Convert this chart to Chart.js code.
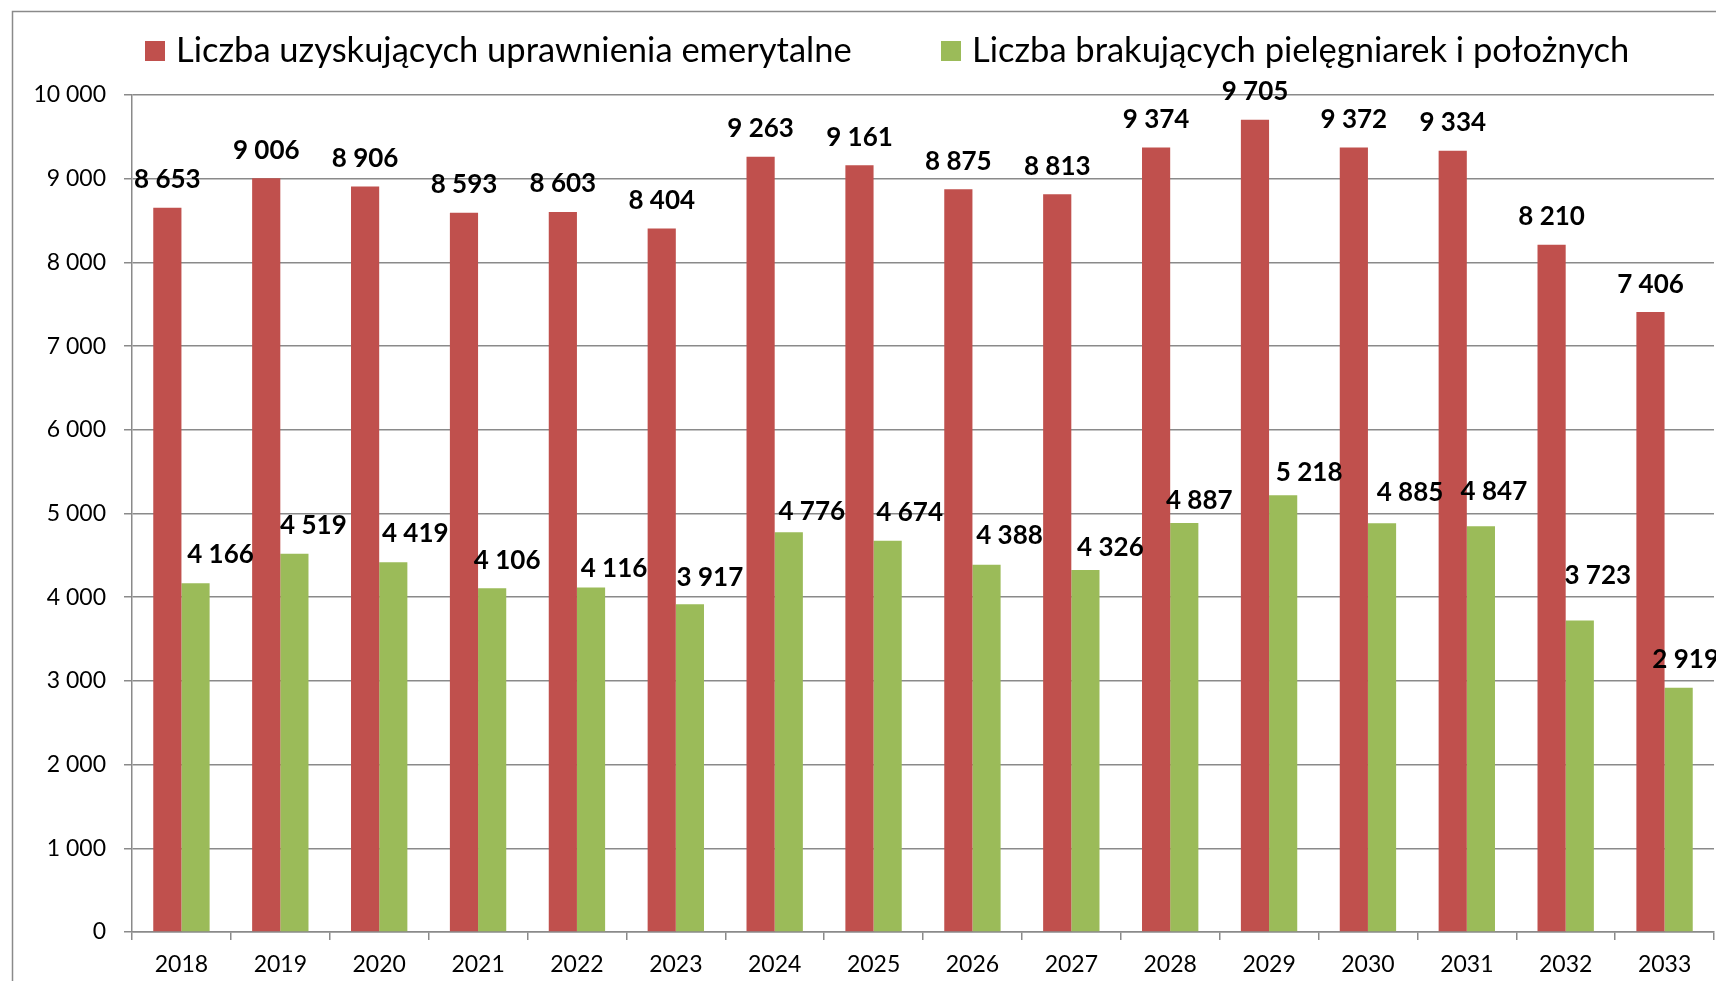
<!DOCTYPE html>
<html>
<head>
<meta charset="utf-8">
<script src="https://cdn.jsdelivr.net/npm/chart.js@4.4.1/dist/chart.umd.min.js"></script>
<style>
  html, body { margin: 0; padding: 0; background: #ffffff; overflow: hidden; }
  #wrap { position: relative; width: 1716px; height: 981px; }
  canvas { display: block; }
</style>
</head>
<body>
<div id="wrap"><canvas id="c" width="1716" height="981"></canvas></div>
<script>
// ---- data ----
const years = ['2018','2019','2020','2021','2022','2023','2024','2025','2026','2027','2028','2029','2030','2031','2032','2033'];
const seriesNames = ['Liczba uzyskujących uprawnienia emerytalne', 'Liczba brakujących pielęgniarek i położnych'];
const retiring = [8653, 9006, 8906, 8593, 8603, 8404, 9263, 9161, 8875, 8813, 9374, 9705, 9372, 9334, 8210, 7406];
const shortage = [4166, 4519, 4419, 4106, 4116, 3917, 4776, 4674, 4388, 4326, 4887, 5218, 4885, 4847, 3723, 2919];
const yTicks = [0, 1000, 2000, 3000, 4000, 5000, 6000, 7000, 8000, 9000, 10000];

// ---- styling (label nudges as placed in the original) ----
const colors = ['#C0504D', '#9BBB59'];
const greenNudgeX = [25, 19, 22, 15, 23, 20, 23, 22, 23, 25, 15, 26, 28, 13, 18, 7];
const greenNudgeY = [-1, 0, -1, 0, 9, 1, 7, 0, -1, 6, 6, 5, -3, -7, -17, 0];
const FONT = 'Lato, "Open Sans", "DejaVu Sans", sans-serif';

function fmt(v) { return String(v).replace(/\B(?=(\d{3})+(?!\d))/g, ' '); }

const frame = {
  id: 'frame',
  beforeDraw(chart) {
    const ctx = chart.ctx;
    ctx.save();
    ctx.fillStyle = '#ffffff';
    ctx.fillRect(0, 0, chart.width, chart.height);
    ctx.strokeStyle = '#8a8a8a';
    ctx.lineWidth = 1.5;
    ctx.strokeRect(12.5, 11.5, 3000, 3000);
    ctx.restore();
  }
};

const legendPlugin = {
  id: 'customLegend',
  afterDraw(chart) {
    const ctx = chart.ctx;
    const xs = [145, 941];
    ctx.save();
    ctx.font = '34.5px ' + FONT;
    ctx.textBaseline = 'alphabetic';
    ctx.textAlign = 'left';
    chart.data.datasets.forEach((ds, i) => {
      ctx.fillStyle = ds.backgroundColor;
      ctx.fillRect(xs[i], 41, 20, 20);
      ctx.fillStyle = '#000000';
      ctx.fillText(ds.label, xs[i] + 31, 62);
    });
    ctx.restore();
  }
};

const labelPlugin = {
  id: 'valueLabels',
  afterDatasetsDraw(chart) {
    const ctx = chart.ctx;
    ctx.save();
    ctx.font = 'bold 26px ' + FONT;
    ctx.fillStyle = '#000000';
    ctx.textAlign = 'center';
    ctx.textBaseline = 'middle';
    chart.data.datasets.forEach((ds, di) => {
      const meta = chart.getDatasetMeta(di);
      meta.data.forEach((bar, i) => {
        let x = bar.x, y = bar.y - 28;
        if (di === 1) { x += greenNudgeX[i]; y += greenNudgeY[i]; }
        ctx.fillText(fmt(ds.data[i]), x, y);
      });
    });
    ctx.restore();
  }
};

new Chart(document.getElementById('c'), {
  type: 'bar',
  data: {
    labels: years,
    datasets: [
      { label: seriesNames[0], data: retiring, backgroundColor: colors[0], borderWidth: 0 },
      { label: seriesNames[1], data: shortage, backgroundColor: colors[1], borderWidth: 0 }
    ]
  },
  options: {
    responsive: false,
    animation: false,
    events: [],
    layout: { padding: { left: 0, top: 95, right: 2, bottom: 0 } },
    datasets: { bar: { categoryPercentage: 0.57, barPercentage: 1.0 } },
    plugins: { legend: { display: false }, tooltip: { enabled: false }, title: { display: false } },
    scales: {
      x: {
        offset: true,
        grid: { display: true, drawOnChartArea: false, drawTicks: true, tickLength: 8, offset: true, color: '#8a8a8a', lineWidth: 1.5 },
        border: { display: true, color: '#8a8a8a', width: 1.5 },
        ticks: { color: '#000000', font: { family: FONT, size: 23 }, padding: 11, maxRotation: 0, autoSkip: false },
        afterFit(scale) { scale.height = 49; }
      },
      y: {
        min: 0, max: 10000,
        afterBuildTicks(scale) { scale.ticks = yTicks.map(v => ({ value: v })); },
        grid: { color: '#8a8a8a', lineWidth: 1.5, tickLength: 8, drawTicks: true },
        border: { display: true, color: '#8a8a8a', width: 1.5 },
        ticks: { color: '#000000', font: { family: FONT, size: 23 }, padding: 18, callback: v => fmt(v) },
        afterFit(scale) { scale.width = 132; }
      }
    }
  },
  plugins: [frame, legendPlugin, labelPlugin]
});
</script>
</body>
</html>
